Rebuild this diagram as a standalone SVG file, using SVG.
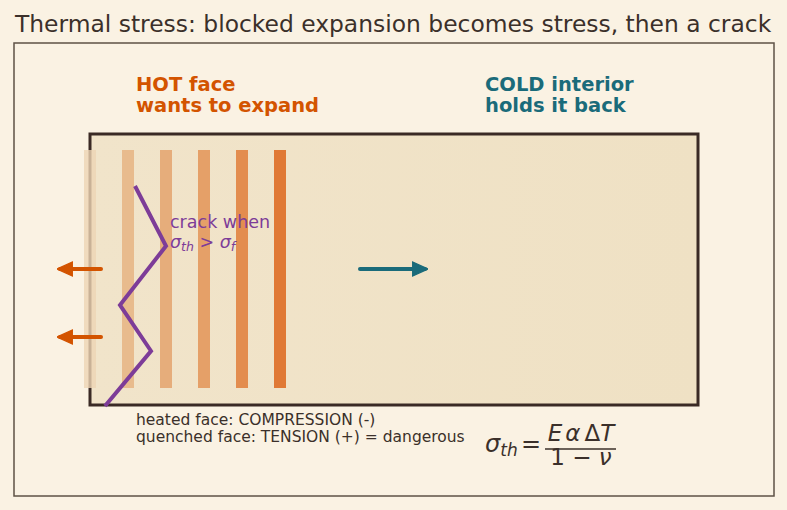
<svg xmlns="http://www.w3.org/2000/svg" width="787" height="510" viewBox="0 0 787 510">
  <defs>
    <marker id="headHot" viewBox="0 0 10 10" refX="8" refY="5" markerWidth="4" markerHeight="4" orient="auto">
      <path d="M0,0.5 L10,5 L0,9.5 z" fill="#d35400" stroke="#d35400" stroke-width="0.8" stroke-linejoin="round"/>
    </marker>
    <marker id="headCold" viewBox="0 0 10 10" refX="8" refY="5" markerWidth="4" markerHeight="4" orient="auto">
      <path d="M0,0.5 L10,5 L0,9.5 z" fill="#1a6b7a" stroke="#1a6b7a" stroke-width="0.8" stroke-linejoin="round"/>
    </marker>
    <linearGradient id="blockFill" x1="0" y1="0" x2="1" y2="0">
      <stop offset="0" stop-color="#f1e4ca"/>
      <stop offset="1" stop-color="#efe1c4"/>
    </linearGradient>
  </defs>
  <style>
    text { font-family: "DejaVu Sans", "Liberation Sans", sans-serif; }
    .title { font-size: 23.4px; fill: #3b302a; }
    .hot { font-size: 19.5px; font-weight: bold; fill: #d35400; }
    .cold { font-size: 19.5px; font-weight: bold; fill: #1a6b7a; }
    .note { font-size: 15.5px; fill: #3b302a; }
    .crackLbl { font-size: 17.5px; fill: #7d3c98; }
    .math { font-style: italic; fill: #3b302a; }
    .stripe { stroke: none; }
    .arrowHot { stroke: #d35400; stroke-width: 4; fill: none; stroke-linecap: round; marker-end: url(#headHot); }
    .arrowCold { stroke: #1a6b7a; stroke-width: 4; fill: none; stroke-linecap: round; marker-end: url(#headCold); }
  </style>

  <rect x="0" y="0" width="787" height="510" fill="#faf2e3"/>
  <text class="title" x="15" y="32">Thermal stress: blocked expansion becomes stress, then a crack</text>
  <rect x="14" y="43" width="760" height="453" fill="none" stroke="#5e5246" stroke-width="1.5"/>

  <g id="labels">
    <text class="hot" x="136" y="91">HOT face</text>
    <text class="hot" x="136" y="112">wants to expand</text>
    <text class="cold" x="485" y="91">COLD interior</text>
    <text class="cold" x="485" y="112">holds it back</text>
  </g>

  <g id="block">
    <rect x="90" y="134" width="608" height="271" fill="url(#blockFill)" stroke="#3a2a25" stroke-width="3"/>
    <!-- heat bands, hottest toward the interior edge -->
    <rect class="stripe" x="84" y="150" width="12" height="238" fill="#eed5b4" opacity="0.8"/>
    <rect class="stripe" x="122" y="150" width="12" height="238" fill="#e8bb8d"/>
    <rect class="stripe" x="160" y="150" width="12" height="238" fill="#e6ad7b"/>
    <rect class="stripe" x="198" y="150" width="12" height="238" fill="#e5a068"/>
    <rect class="stripe" x="236" y="150" width="12" height="238" fill="#e38d4f"/>
    <rect class="stripe" x="274" y="150" width="12" height="238" fill="#e07935"/>
  </g>

  <g id="crack">
    <polyline points="135,186 166,246 120,305 151,351 105,406" fill="none" stroke="#7d3c98" stroke-width="4" stroke-linejoin="miter"/>
    <text class="crackLbl" x="170" y="228">crack when</text>
    <text class="crackLbl" x="170" y="248"><tspan font-style="italic">σ</tspan><tspan font-style="italic" font-size="12.5" dy="3">th</tspan><tspan dy="-3"> &gt; </tspan><tspan font-style="italic">σ</tspan><tspan font-style="italic" font-size="12.5" dy="3">f</tspan></text>
  </g>

  <g id="connectors">
    <line class="arrowHot" x1="101" y1="269" x2="60" y2="269"/>
    <line class="arrowHot" x1="101" y1="337" x2="60" y2="337"/>
    <line class="arrowCold" x1="360" y1="269" x2="425" y2="269"/>
  </g>

  <g id="notes">
    <text class="note" x="136" y="425">heated face: COMPRESSION (-)</text>
    <text class="note" x="136" y="442">quenched face: TENSION (+) = dangerous</text>
  </g>

  <g id="formula">
    <text class="math" x="485" y="452" font-size="24">σ<tspan font-size="17" dy="4">th</tspan></text>
    <text x="521" y="452" font-size="24" fill="#3b302a">=</text>
    <text class="math" x="581" y="441" font-size="23" text-anchor="middle">E<tspan dx="3">α</tspan><tspan dx="4" font-style="normal">Δ</tspan>T</text>
    <line x1="545" y1="449" x2="616" y2="449" stroke="#3b302a" stroke-width="1.3"/>
    <text x="581" y="465" font-size="23" fill="#3b302a" text-anchor="middle">1 − <tspan font-style="italic">ν</tspan></text>
  </g>
</svg>
